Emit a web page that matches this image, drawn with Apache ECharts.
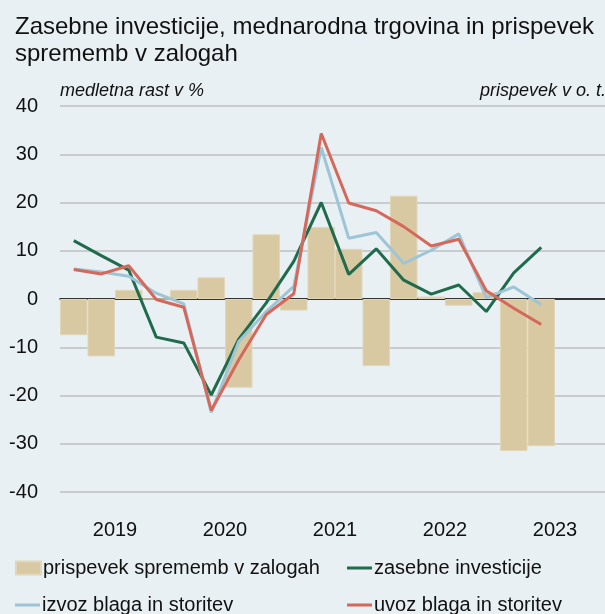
<!DOCTYPE html>
<html>
<head>
<meta charset="utf-8">
<script src="https://cdn.jsdelivr.net/npm/echarts@6/dist/echarts.min.js"></script>
<style>
  html, body { margin: 0; padding: 0; background: #e8f0f4; }
  #chart { width: 605px; height: 614px; }
</style>
</head>
<body>
<div id="chart"></div>
<script>
// quarterly categories 2019 Q1 - 2023 Q4
var quarters = [
  "2019 Q1", "2019 Q2", "2019 Q3", "2019 Q4",
  "2020 Q1", "2020 Q2", "2020 Q3", "2020 Q4",
  "2021 Q1", "2021 Q2", "2021 Q3", "2021 Q4",
  "2022 Q1", "2022 Q2", "2022 Q3", "2022 Q4",
  "2023 Q1", "2023 Q2", "2023 Q3", "2023 Q4"
];
var years = ["2019", "2020", "2021", "2022", "2023"];

// prispevek v o. t.
var inventories = [-7.5, -11.9, 1.9, 0, 1.9, 4.5, -18.4, 13.4, -2.4, 14.9, 10.4, -13.9, 21.4, 0.5, -1.4, 1.4, -31.5, -30.5];
// medletna rast v %
var investment = [12.1, 9.0, 6.0, -7.9, -9.1, -19.9, -8.3, -0.8, 7.8, 20.0, 5.1, 10.4, 3.9, 1.0, 2.9, -2.6, 5.4, 10.7];
var exportsGS = [6.2, 5.6, 4.7, 1.2, -1.0, -23.5, -8.8, -2.6, 2.6, 31.4, 12.6, 13.8, 7.4, 10.1, 13.5, 0.3, 2.5, -1.2];
var importsGS = [6.1, 5.2, 6.9, -0.1, -1.7, -23.1, -12.6, -3.2, 1.1, 34.3, 19.9, 18.3, 15.0, 11.0, 12.4, 1.7, -1.9, -5.3];

var font = "'Liberation Sans', Arial, sans-serif";
var colors = {
  inv: "#d8c9a3",
  green: "#1f6b4c",
  blue: "#9dc5d5",
  red: "#d5685a"
};

// one legend per item so bar and line keys can have their own icon size
function legendItem(name, left, top, height) {
  return {
    left: left,
    top: top,
    padding: 0,
    itemWidth: 25,
    itemHeight: height,
    data: [{ name: name, icon: "rect" }],
    textStyle: { fontFamily: font, fontSize: 20, lineHeight: 20, color: "#111", padding: [0, 0, 0, -3] }
  };
}

var chart = echarts.init(document.getElementById("chart"));

var option = {
  backgroundColor: "#e8f0f4",
  animation: false,
  title: {
    text: "Zasebne investicije, mednarodna trgovina in prispevek\nsprememb v zalogah",
    left: 10,
    top: 9,
    textStyle: {
      fontFamily: font,
      fontSize: 24,
      fontWeight: "normal",
      lineHeight: 27,
      color: "#111"
    }
  },
  legend: [
    legendItem("prispevek sprememb v zalogah", 15, 558, 13),
    legendItem("zasebne investicije", 347, 558, 3),
    legendItem("izvoz blaga in storitev", 15, 595, 3),
    legendItem("uvoz blaga in storitev", 347, 595, 3)
  ],
  // plot runs past the right edge, as in the original
  grid: { left: 60, top: 106, width: 550, height: 386, outerBoundsMode: "none" },
  xAxis: [
    {
      type: "category",
      data: quarters,
      axisLine: { onZero: true, lineStyle: { color: "#000", width: 1.5 } },
      axisTick: { interval: 3, length: 5, lineStyle: { color: "#444", width: 1.5 } },
      axisLabel: { show: false },
      splitLine: { show: false }
    },
    {
      // year labels, centred under each year's four quarters
      type: "category",
      position: "bottom",
      data: years,
      axisLine: { show: false },
      axisTick: { show: false },
      axisLabel: { margin: 28, fontFamily: font, fontSize: 20, color: "#111" },
      splitLine: { show: false }
    }
  ],
  yAxis: [
    {
      type: "value",
      min: -40,
      max: 40,
      interval: 10,
      name: "medletna rast v %",
      nameLocation: "end",
      nameGap: 15,
      nameTextStyle: {
        fontFamily: font, fontSize: 18, fontStyle: "italic", color: "#111",
        align: "left", verticalAlign: "middle"
      },
      axisLine: { show: false },
      axisTick: { show: false },
      axisLabel: { margin: 22, fontFamily: font, fontSize: 20, color: "#111" },
      splitLine: { lineStyle: { color: "#bfc1c3", width: 1.5 } }
    },
    {
      type: "value",
      position: "right",
      min: -40,
      max: 40,
      interval: 10,
      name: "prispevek v o. t.",
      nameLocation: "end",
      nameGap: 15,
      nameTextStyle: {
        fontFamily: font, fontSize: 18, fontStyle: "italic", color: "#111",
        align: "right", verticalAlign: "middle", padding: [0, 4, 0, 0]
      },
      axisLine: { show: false },
      axisTick: { show: false },
      axisLabel: { show: false },
      splitLine: { show: false }
    }
  ],
  series: [
    {
      name: "prispevek sprememb v zalogah",
      type: "bar",
      xAxisIndex: 0,
      yAxisIndex: 1,
      data: inventories,
      barWidth: "100%",
      itemStyle: { color: colors.inv, borderColor: "#e2d6b8", borderWidth: 1 }
    },
    {
      name: "zasebne investicije",
      type: "line",
      xAxisIndex: 0,
      yAxisIndex: 0,
      data: investment,
      symbol: "none",
      lineStyle: { color: colors.green, width: 3 },
      itemStyle: { color: colors.green }
    },
    {
      name: "izvoz blaga in storitev",
      type: "line",
      xAxisIndex: 0,
      yAxisIndex: 0,
      data: exportsGS,
      symbol: "none",
      lineStyle: { color: colors.blue, width: 3 },
      itemStyle: { color: colors.blue }
    },
    {
      name: "uvoz blaga in storitev",
      type: "line",
      xAxisIndex: 0,
      yAxisIndex: 0,
      data: importsGS,
      symbol: "none",
      lineStyle: { color: colors.red, width: 3 },
      itemStyle: { color: colors.red }
    }
  ]
};

chart.setOption(option);
</script>
</body>
</html>
